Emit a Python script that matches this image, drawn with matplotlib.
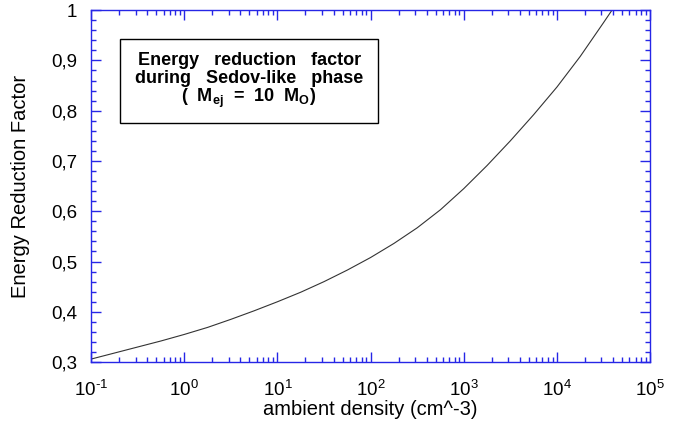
import math

import matplotlib
matplotlib.use("Agg")
import matplotlib.pyplot as plt
from matplotlib.patches import Rectangle
from matplotlib.ticker import FuncFormatter, LogLocator, MultipleLocator

plt.rcParams["font.family"] = ["Liberation Sans", "DejaVu Sans"]
plt.rcParams["mathtext.fontset"] = "custom"
plt.rcParams["mathtext.rm"] = "Liberation Sans"
plt.rcParams["mathtext.bf"] = "Liberation Sans:bold"

# values
density = [0.1, 0.178, 0.316, 0.562, 1.0, 1.78, 3.16, 5.62, 10.0, 17.8,
           31.6, 56.2, 100.0, 178.0, 316.0, 562.0, 1000.0, 1780.0, 3160.0,
           5620.0, 10000.0, 17800.0, 31600.0, 39000.0]
factor = [0.306, 0.318, 0.330, 0.342, 0.355, 0.369, 0.385, 0.402, 0.420,
          0.439, 0.460, 0.483, 0.508, 0.536, 0.567, 0.603, 0.645, 0.691,
          0.740, 0.792, 0.847, 0.908, 0.975, 1.0]

xlim = (0.1, 1e5)
ylim = (0.3, 1.0)
axis_blue = "#2626e6"


def decade_label(v, pos):
    return r"$10^{\text{%d}}$" % round(math.log10(v))


def comma_label(v, pos):
    if abs(v - 1) < 1e-9:
        return "1"
    return f"{v:.1f}".replace(".", ",")


fig = plt.figure(figsize=(6.8, 4.23), dpi=100)
ax = fig.add_axes([0.134, 0.144, 0.822, 0.832])

ax.plot(density, factor, color="#333333", linewidth=0.8)
ax.set_xscale("log")
ax.set_xlim(*xlim)
ax.set_ylim(*ylim)

ax.xaxis.set_major_locator(LogLocator(base=10, numticks=10))
ax.xaxis.set_minor_locator(LogLocator(base=10, subs=range(2, 10), numticks=20))
ax.xaxis.set_major_formatter(FuncFormatter(decade_label))
ax.yaxis.set_major_locator(MultipleLocator(0.1))
ax.yaxis.set_minor_locator(MultipleLocator(0.02))
ax.yaxis.set_major_formatter(FuncFormatter(comma_label))

for spine in ax.spines.values():
    spine.set_color(axis_blue)
    spine.set_linewidth(1.0)
ax.tick_params(which="both", direction="in", top=True, right=True,
               color=axis_blue, labelsize=13.5, labelcolor="black")
ax.tick_params(which="major", length=7, width=1.0)
ax.tick_params(which="minor", length=3.5, width=1.0)
ax.tick_params(axis="x", pad=12)
ax.tick_params(axis="y", pad=10)

ax.set_xlabel("ambient density (cm^-3)", fontsize=14.5, va="top")
ax.xaxis.set_label_coords(0.5, -0.108)
ax.set_ylabel("Energy Reduction Factor", fontsize=14.5)
ax.yaxis.set_label_coords(-0.109, 0.5)

ax.add_patch(Rectangle((0.052, 0.679), 0.461, 0.239, transform=ax.transAxes,
                       fill=False, edgecolor="black", linewidth=1.0))
box_x = 0.2826
ax.text(box_x, 0.844, "Energy   reduction   factor", transform=ax.transAxes,
        ha="center", va="baseline", fontsize=13, fontweight="bold")
ax.text(box_x, 0.793, "during   Sedov-like   phase", transform=ax.transAxes,
        ha="center", va="baseline", fontsize=13, fontweight="bold")
ax.text(box_x, 0.739, r"(  M$_{\mathbf{ej}}$  =  10  M$_{\mathbf{O}}$)",
        transform=ax.transAxes, ha="center", va="baseline",
        fontsize=13, fontweight="bold")

fig.savefig("out.png", dpi=100)
plt.close(fig)
